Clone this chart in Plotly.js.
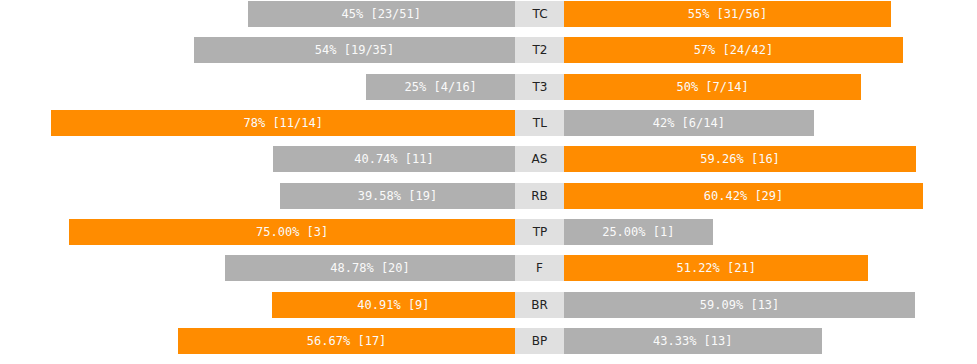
<!DOCTYPE html>
<html><head><meta charset="utf-8">
<script src="https://cdn.plot.ly/plotly-3.0.1.min.js"></script>
<style>html,body{margin:0;padding:0;background:#fff}</style>
</head><body><div id="chart" style="width:977px;height:364px"></div>
<script>
const categories = ["TC","T2","T3","TL","AS","RB","TP","F","BR","BP"];
const leftValues = [45,54,25,78,40.74,39.58,75.00,48.78,40.91,56.67];
const leftLabels = ["45% [23/51]","54% [19/35]","25% [4/16]","78% [11/14]","40.74% [11]","39.58% [19]","75.00% [3]","48.78% [20]","40.91% [9]","56.67% [17]"];
const rightValues = [55,57,50,42,59.26,60.42,25.00,51.22,59.09,43.33];
const rightLabels = ["55% [31/56]","57% [24/42]","50% [7/14]","42% [6/14]","59.26% [16]","60.42% [29]","25.00% [1]","51.22% [21]","59.09% [13]","43.33% [13]"];
const leftHighlighted = [false,false,false,true,false,false,true,false,true,true];

const ORANGE = "#ff8c00", GRAY = "#b0b0b0";
const W = 977, leftEnd = 515, rightStart = 564, pxPerUnit = 5.943;
const barFont = {family: "DejaVu Sans Mono", size: 12, color: "#fafafa"};

const common = {type: "bar", orientation: "h", y: categories, width: 0.716,
  textposition: "inside", insidetextanchor: "middle", constraintext: "none",
  hoverinfo: "skip", cliponaxis: false};

const traces = [
  Object.assign({}, common, {x: leftValues, text: leftLabels, xaxis: "x", yaxis: "y",
    marker: {color: leftHighlighted.map(h => h ? ORANGE : GRAY)}, textfont: barFont}),
  Object.assign({}, common, {x: categories.map(() => 1), text: categories, xaxis: "x2", yaxis: "y",
    marker: {color: "#e0e0e0"}, textfont: {family: "DejaVu Sans", size: 12, color: "#222"}}),
  Object.assign({}, common, {x: rightValues, text: rightLabels, xaxis: "x3", yaxis: "y",
    marker: {color: leftHighlighted.map(h => h ? GRAY : ORANGE)}, textfont: barFont})
];

const axBase = {showgrid: false, zeroline: false, showticklabels: false, showline: false, fixedrange: true};
const layout = {
  width: W, height: 364, margin: {l: 0, r: 0, t: 0, b: 0},
  paper_bgcolor: "#fff", plot_bgcolor: "#fff", showlegend: false, bargap: 0,
  xaxis: Object.assign({}, axBase, {domain: [0, leftEnd / W], range: [leftEnd / pxPerUnit, 0]}),
  xaxis2: Object.assign({}, axBase, {domain: [leftEnd / W, rightStart / W], range: [0, 1]}),
  xaxis3: Object.assign({}, axBase, {domain: [rightStart / W, 1], range: [0, (W - rightStart) / pxPerUnit]}),
  yaxis: Object.assign({}, axBase, {type: "category", range: [9.633, -0.385]})
};
Plotly.newPlot("chart", traces, layout, {displayModeBar: false, staticPlot: true});
</script></body></html>
